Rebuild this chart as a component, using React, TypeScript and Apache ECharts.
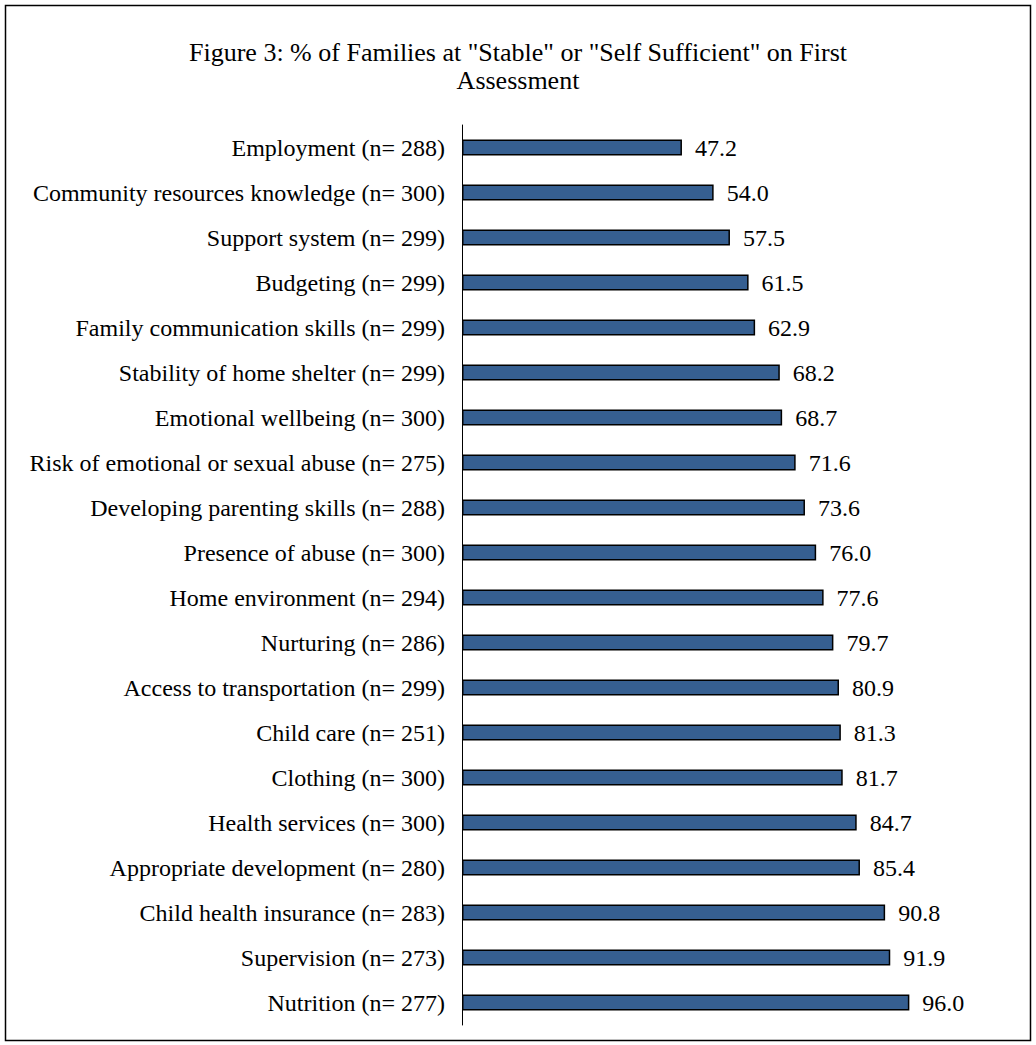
import React, { useEffect, useRef } from "react";
import * as echarts from "echarts";

const categories = [
  "Employment (n= 288)",
  "Community resources knowledge (n= 300)",
  "Support system (n= 299)",
  "Budgeting (n= 299)",
  "Family communication skills (n= 299)",
  "Stability of home shelter (n= 299)",
  "Emotional wellbeing (n= 300)",
  "Risk of emotional or sexual abuse (n= 275)",
  "Developing parenting skills (n= 288)",
  "Presence of abuse (n= 300)",
  "Home environment (n= 294)",
  "Nurturing (n= 286)",
  "Access to transportation (n= 299)",
  "Child care (n= 251)",
  "Clothing (n= 300)",
  "Health services (n= 300)",
  "Appropriate development (n= 280)",
  "Child health insurance (n= 283)",
  "Supervision (n= 273)",
  "Nutrition (n= 277)",
];

const values = [
  47.2, 54.0, 57.5, 61.5, 62.9, 68.2, 68.7, 71.6, 73.6, 76.0, 77.6, 79.7, 80.9,
  81.3, 81.7, 84.7, 85.4, 90.8, 91.9, 96.0,
];

const titleText =
  'Figure 3: % of Families at "Stable" or "Self Sufficient" on First\nAssessment';

const FONT = '"Liberation Serif", "Times New Roman", serif';

export default function App() {
  const ref = useRef<HTMLDivElement>(null);
  useEffect(() => {
    if (!ref.current) return;
    const chart = echarts.init(ref.current, undefined, { renderer: "svg" });
    chart.setOption({
      animation: false,
      backgroundColor: "#ffffff",
      title: {
        text: titleText,
        left: 513,
        top: 33,
        textAlign: "center",
        textStyle: {
          fontFamily: FONT,
          fontSize: 26,
          fontWeight: "normal",
          color: "#000",
          lineHeight: 28,
        },
      },
      graphic: [
        {
          type: "rect",
          shape: { x: 5.5, y: 5.5, width: 1025, height: 1035 },
          style: { fill: "none", stroke: "#000", lineWidth: 1.5 },
          silent: true,
        },
      ],
      grid: { left: 462, top: 125, width: 466, height: 900, containLabel: false },
      xAxis: {
        type: "value",
        min: 0,
        max: 100,
        show: false,
      },
      yAxis: {
        type: "category",
        inverse: true,
        data: categories,
        axisLine: { show: true, lineStyle: { color: "#000", width: 1 } },
        axisTick: { show: false },
        axisLabel: {
          fontFamily: FONT,
          fontSize: 24,
          color: "#000",
          margin: 17,
        },
        splitLine: { show: false },
      },
      series: [
        {
          type: "bar",
          data: values,
          barWidth: 16,
          itemStyle: {
            color: "#365f91",
            borderColor: "#000",
            borderWidth: 1.5,
          },
          label: {
            show: true,
            position: "right",
            distance: 13,
            formatter: (p: any) => Number(p.value).toFixed(1),
            fontFamily: FONT,
            fontSize: 24,
            color: "#000",
          },
        },
      ],
    });
    return () => chart.dispose();
  }, []);
  return (
    <div
      ref={ref}
      style={{ position: "absolute", left: 0, top: 0, width: 1036, height: 1045 }}
    />
  );
}
